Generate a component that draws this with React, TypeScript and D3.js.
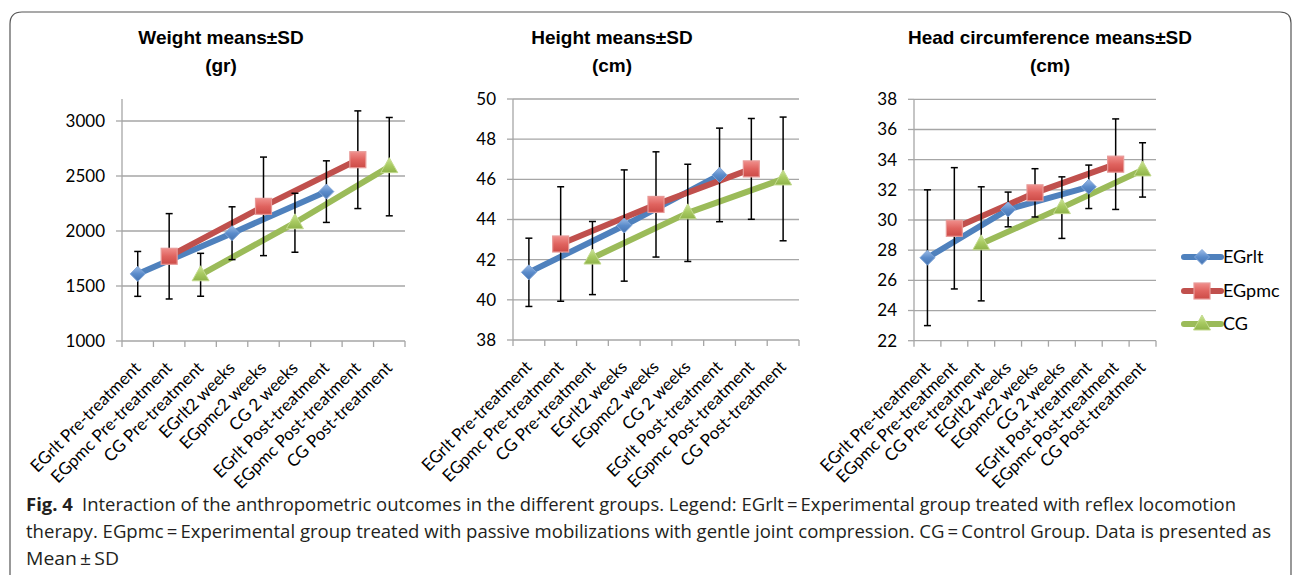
import React from "react";
import * as d3 from "d3";

const categories = [
  "EGrlt Pre-treatment",
  "EGpmc Pre-treatment",
  "CG Pre-treatment",
  "EGrlt2 weeks",
  "EGpmc2 weeks",
  "CG 2 weeks",
  "EGrlt Post-treatment",
  "EGpmc Post-treatment",
  "CG Post-treatment",
];

const seriesNames = ["EGrlt", "EGpmc", "CG"];
// category index of each series point (pre, 2 weeks, post)
const seriesCats = [
  [0, 3, 6],
  [1, 4, 7],
  [2, 5, 8],
];

const weightMeans = [
  [1610, 1980, 2358],
  [1770, 2224, 2648],
  [1602, 2075, 2585],
];
const weightSD = [
  [204, 240, 280],
  [388, 448, 444],
  [195, 268, 447],
];
const weightTicks = [1000, 1500, 2000, 2500, 3000];

const heightMeans = [
  [41.37, 43.7, 46.22],
  [42.78, 44.75, 46.52],
  [42.08, 44.33, 46.02],
];
const heightSD = [
  [1.7, 2.77, 2.33],
  [2.85, 2.62, 2.51],
  [1.82, 2.42, 3.08],
];
const heightTicks = [38, 40, 42, 44, 46, 48, 50];

const headMeans = [
  [27.5, 30.7, 32.2],
  [29.45, 31.8, 33.7],
  [28.42, 30.82, 33.32],
];
const headSD = [
  [4.5, 1.15, 1.44],
  [4.02, 1.6, 3.0],
  [3.78, 2.04, 1.8],
];
const headTicks = [22, 24, 26, 28, 30, 32, 34, 36, 38];

const colors = ["#4F81BD", "#C0504D", "#9BBB59"];
const gradIds = ["gBlue", "gRed", "gGreen"];
const markerStroke = ["#7FA5D8", "#E89A98", "#C3DA8E"];

const LABEL_FONT = "Lato, 'Open Sans', sans-serif";

function Marker({ kind, x, y }: { kind: number; x: number; y: number }) {
  if (kind === 0) {
    const r = 7.5;
    return (
      <path
        d={`M${x},${y - r}L${x + r},${y}L${x},${y + r}L${x - r},${y}Z`}
        fill={`url(#${gradIds[0]})`}
        stroke={markerStroke[0]}
        strokeWidth={1}
      />
    );
  }
  if (kind === 1) {
    const r = 8;
    return (
      <rect
        x={x - r}
        y={y - r}
        width={2 * r}
        height={2 * r}
        fill={`url(#${gradIds[1]})`}
        stroke={markerStroke[1]}
        strokeWidth={1.2}
      />
    );
  }
  const w = 8.5;
  return (
    <path
      d={`M${x},${y - 9}L${x + w},${y + 6}L${x - w},${y + 6}Z`}
      fill={`url(#${gradIds[2]})`}
      stroke={markerStroke[2]}
      strokeWidth={1}
    />
  );
}

type PanelProps = {
  title1: string;
  title2: string;
  titleX: number;
  means: number[][];
  sds: number[][];
  ticks: number[];
  domain: [number, number];
  x0: number;
  x1: number;
  yTop: number;
  yBot: number;
};

function Panel(p: PanelProps) {
  const x = d3.scaleBand<string>().domain(categories).range([p.x0, p.x1]);
  const y = d3.scaleLinear().domain(p.domain).range([p.yBot, p.yTop]);
  const cx = (i: number) => (x(categories[i]) as number) + x.bandwidth() / 2;
  const line = d3
    .line<[number, number]>()
    .x((d) => d[0])
    .y((d) => d[1]);
  const tickXs = categories.map((c) => x(c) as number).concat([p.x1]);

  return (
    <g>
      <text
        x={p.titleX}
        y={44}
        textAnchor="middle"
        fontFamily="'Liberation Sans', Arial, sans-serif"
        fontWeight="bold"
        fontSize={19}
        fill="#000"
      >
        {p.title1}
      </text>
      <text
        x={p.titleX}
        y={72}
        textAnchor="middle"
        fontFamily="'Liberation Sans', Arial, sans-serif"
        fontWeight="bold"
        fontSize={19}
        fill="#000"
      >
        {p.title2}
      </text>
      {/* gridlines */}
      {p.ticks.slice(1).map((t) => (
        <line key={"g" + t} x1={p.x0} x2={p.x1} y1={y(t)} y2={y(t)} stroke="#A6A6A6" strokeWidth={1.3} />
      ))}
      {/* y axis */}
      <line x1={p.x0} x2={p.x0} y1={p.yTop} y2={p.yBot} stroke="#A6A6A6" strokeWidth={1.3} />
      {p.ticks.map((t) => (
        <g key={"t" + t}>
          <line x1={p.x0 - 6} x2={p.x0} y1={y(t)} y2={y(t)} stroke="#A6A6A6" strokeWidth={1.3} />
          <text
            x={p.x0 - 17}
            y={y(t)}
            dy="0.35em"
            textAnchor="end"
            fontFamily={LABEL_FONT}
            fontSize={17}
            fill="#000"
          >
            {t}
          </text>
        </g>
      ))}
      {/* x axis */}
      <line x1={p.x0} x2={p.x1} y1={p.yBot} y2={p.yBot} stroke="#A6A6A6" strokeWidth={1.3} />
      {tickXs.map((tx, i) => (
        <line key={"xt" + i} x1={tx} x2={tx} y1={p.yBot} y2={p.yBot + 6} stroke="#A6A6A6" strokeWidth={1.3} />
      ))}
      {categories.map((c, i) => {
        const px = cx(i) + 4;
        const py = p.yBot + 28;
        return (
          <text
            key={"xl" + i}
            x={px}
            y={py}
            textAnchor="end"
            transform={`rotate(-45 ${px} ${py})`}
            fontFamily={LABEL_FONT}
            fontSize={17}
            fill="#000"
          >
            {c}
          </text>
        );
      })}
      {/* lines */}
      {seriesNames.map((s, si) => (
        <path
          key={"l" + s}
          d={line(seriesCats[si].map((ci, k) => [cx(ci), y(p.means[si][k])])) as string}
          fill="none"
          stroke={colors[si]}
          strokeWidth={6}
          strokeLinejoin="round"
          strokeLinecap="round"
        />
      ))}
      {/* error bars */}
      {seriesNames.map((s, si) =>
        seriesCats[si].map((ci, k) => {
          const xx = cx(ci);
          const hi = y(p.means[si][k] + p.sds[si][k]);
          const lo = y(p.means[si][k] - p.sds[si][k]);
          return (
            <g key={"e" + s + k} stroke="#000" strokeWidth={1.5}>
              <line x1={xx} x2={xx} y1={hi} y2={lo} />
              <line x1={xx - 3.5} x2={xx + 3.5} y1={hi} y2={hi} />
              <line x1={xx - 3.5} x2={xx + 3.5} y1={lo} y2={lo} />
            </g>
          );
        })
      )}
      {/* markers */}
      {seriesNames.map((s, si) =>
        seriesCats[si].map((ci, k) => (
          <Marker key={"m" + s + k} kind={si} x={cx(ci)} y={y(p.means[si][k])} />
        ))
      )}
    </g>
  );
}

const captionLine1Rest =
  "Interaction of the anthropometric outcomes in the different groups. Legend: EGrlt\u2009=\u2009Experimental group treated with reflex locomotion";
const captionLine2 =
  "therapy. EGpmc\u2009=\u2009Experimental group treated with passive mobilizations with gentle joint compression. CG\u2009=\u2009Control Group. Data is presented as";
const captionLine3 = "Mean\u2009\u00B1\u2009SD";

export default function App() {
  const legendY = [257, 291, 324];
  return (
    <svg width={1292} height={575} style={{ position: "absolute", left: 0, top: 0, background: "#fff" }}>
      <defs>
        <linearGradient id="gBlue" x1="0" y1="0" x2="0" y2="1">
          <stop offset="0" stopColor="#9CBBE6" />
          <stop offset="0.5" stopColor="#5B8CCB" />
          <stop offset="1" stopColor="#4573B0" />
        </linearGradient>
        <linearGradient id="gRed" x1="0" y1="0" x2="0" y2="1">
          <stop offset="0" stopColor="#F08F8C" />
          <stop offset="0.5" stopColor="#E0635F" />
          <stop offset="1" stopColor="#CC4B47" />
        </linearGradient>
        <linearGradient id="gGreen" x1="0" y1="0" x2="0" y2="1">
          <stop offset="0" stopColor="#CDE59A" />
          <stop offset="0.5" stopColor="#A9CB62" />
          <stop offset="1" stopColor="#8FB34A" />
        </linearGradient>
      </defs>
      <rect x={0} y={0} width={1292} height={575} fill="#fff" />
      <path
        d="M10,575 V24 Q10,12 22,12 H1280 Q1291,12 1291,23 V575"
        fill="none"
        stroke="#555"
        strokeWidth={1.2}
      />
      <Panel
        title1="Weight means±SD"
        title2="(gr)"
        titleX={221}
        means={weightMeans}
        sds={weightSD}
        ticks={weightTicks}
        domain={[1000, 3200]}
        x0={122}
        x1={405}
        yTop={99}
        yBot={341}
      />
      <Panel
        title1="Height means±SD"
        title2="(cm)"
        titleX={612}
        means={heightMeans}
        sds={heightSD}
        ticks={heightTicks}
        domain={[38, 50]}
        x0={513}
        x1={799}
        yTop={99}
        yBot={340}
      />
      <Panel
        title1="Head circumference means±SD"
        title2="(cm)"
        titleX={1050}
        means={headMeans}
        sds={headSD}
        ticks={headTicks}
        domain={[22, 38]}
        x0={914}
        x1={1156}
        yTop={99.3}
        yBot={340.7}
      />
      {/* legend */}
      {seriesNames.map((s, si) => (
        <g key={"lg" + s}>
          <line
            x1={1184}
            x2={1221}
            y1={legendY[si]}
            y2={legendY[si]}
            stroke={colors[si]}
            strokeWidth={6}
            strokeLinecap="round"
          />
          <Marker kind={si} x={1202} y={legendY[si]} />
          <text
            x={1223}
            y={legendY[si]}
            dy="0.35em"
            fontFamily={LABEL_FONT}
            fontSize={18}
            fill="#000"
          >
            {s}
          </text>
        </g>
      ))}
      {/* caption */}
      <text x={26} y={511} fontFamily="'Open Sans', sans-serif" fontSize={18} fill="#231f20" textLength={1210} lengthAdjust="spacingAndGlyphs">
        <tspan fontWeight="bold">Fig. 4</tspan>
        <tspan dx={9}>{captionLine1Rest}</tspan>
      </text>
      <text x={26} y={538} fontFamily="'Open Sans', sans-serif" fontSize={18} fill="#231f20" textLength={1245} lengthAdjust="spacingAndGlyphs">
        {captionLine2}
      </text>
      <text x={26} y={565} fontFamily="'Open Sans', sans-serif" fontSize={18} fill="#231f20" textLength={93} lengthAdjust="spacingAndGlyphs">
        {captionLine3}
      </text>
    </svg>
  );
}
